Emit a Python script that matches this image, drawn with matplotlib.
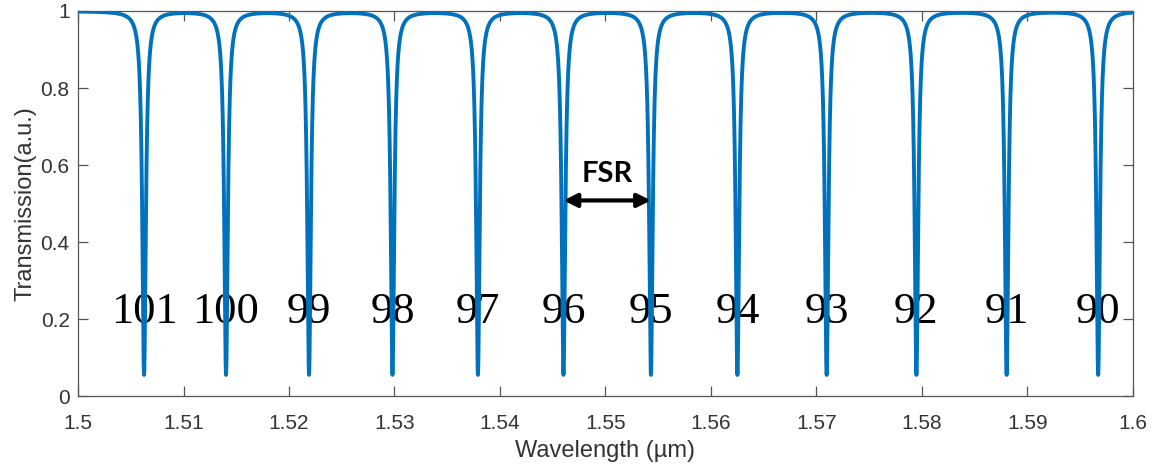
import numpy as np
import matplotlib
matplotlib.use('Agg')
import matplotlib.pyplot as plt
from matplotlib.ticker import FormatStrFormatter

# Resonance positions (um) and azimuthal orders
resonance_um = [1.50626, 1.51403, 1.52190, 1.52981, 1.53791, 1.54602,
                1.55431, 1.56251, 1.57097, 1.57948, 1.58803, 1.59671]
orders = [101, 100, 99, 98, 97, 96, 95, 94, 93, 92, 91, 90]
t_min = 0.055           # transmission at the bottom of each dip
half_width_um = 0.0002  # half width of the dips
fsr_pair = (96, 95)

x_ticks = [1.5, 1.51, 1.52, 1.53, 1.54, 1.55, 1.56, 1.57, 1.58, 1.59, 1.6]
y_ticks = [0, 0.2, 0.4, 0.6, 0.8, 1]

# ring all-pass response built from the dips above
wl = np.union1d(np.linspace(1.5, 1.6, 20001), resonance_um)
trans = np.ones_like(wl)
for lam in resonance_um:
    trans *= 1 - (1 - t_min) * half_width_um**2 / (half_width_um**2 + (wl - lam)**2)

plt.rcParams['font.family'] = ['Liberation Sans', 'DejaVu Sans']

fig = plt.figure(figsize=(11.56, 4.68), dpi=100)
ax = fig.add_axes([0.0675, 0.1538, 0.9125, 0.8227])

ax.plot(wl, trans, color='#0072BD', linewidth=2.8, zorder=3, solid_capstyle='round')

# order numbers under each dip
for lam, m in zip(resonance_um, orders):
    ax.text(lam, 0.19, str(m), ha='center', va='baseline', fontsize=32,
            family='Liberation Serif', color='black', zorder=2)

# FSR arrow between two neighbouring orders
l1 = resonance_um[orders.index(fsr_pair[0])]
l2 = resonance_um[orders.index(fsr_pair[1])]
ax.annotate('', xy=(l2, 0.508), xytext=(l1, 0.508),
            arrowprops=dict(arrowstyle='<|-|>', color='black', lw=3,
                            mutation_scale=20, shrinkA=0, shrinkB=0), zorder=4)
ax.text((l1 + l2) / 2, 0.557, 'FSR', ha='center', va='baseline', fontsize=21,
        family='Lato', fontweight='bold', color='black')

ax.set_xlim(1.5, 1.6)
ax.set_ylim(0, 1)
ax.set_xticks(x_ticks)
ax.set_yticks(y_ticks)
ax.xaxis.set_major_formatter(FormatStrFormatter('%g'))
ax.yaxis.set_major_formatter(FormatStrFormatter('%g'))
ax.tick_params(direction='in', length=7.5, width=0.9, color='#555555',
               labelsize=15, labelcolor='#333333', top=True, right=True)
ax.tick_params(axis='x', pad=13)
ax.tick_params(axis='y', pad=6)
for s in ax.spines.values():
    s.set_color('#555555')
    s.set_linewidth(0.9)

ax.set_xlabel('Wavelength (µm)', fontsize=17, color='#333333', labelpad=5)
ax.set_ylabel('Transmission(a.u.)', fontsize=17, color='#333333', labelpad=3)

fig.savefig('out.png', dpi=100)
